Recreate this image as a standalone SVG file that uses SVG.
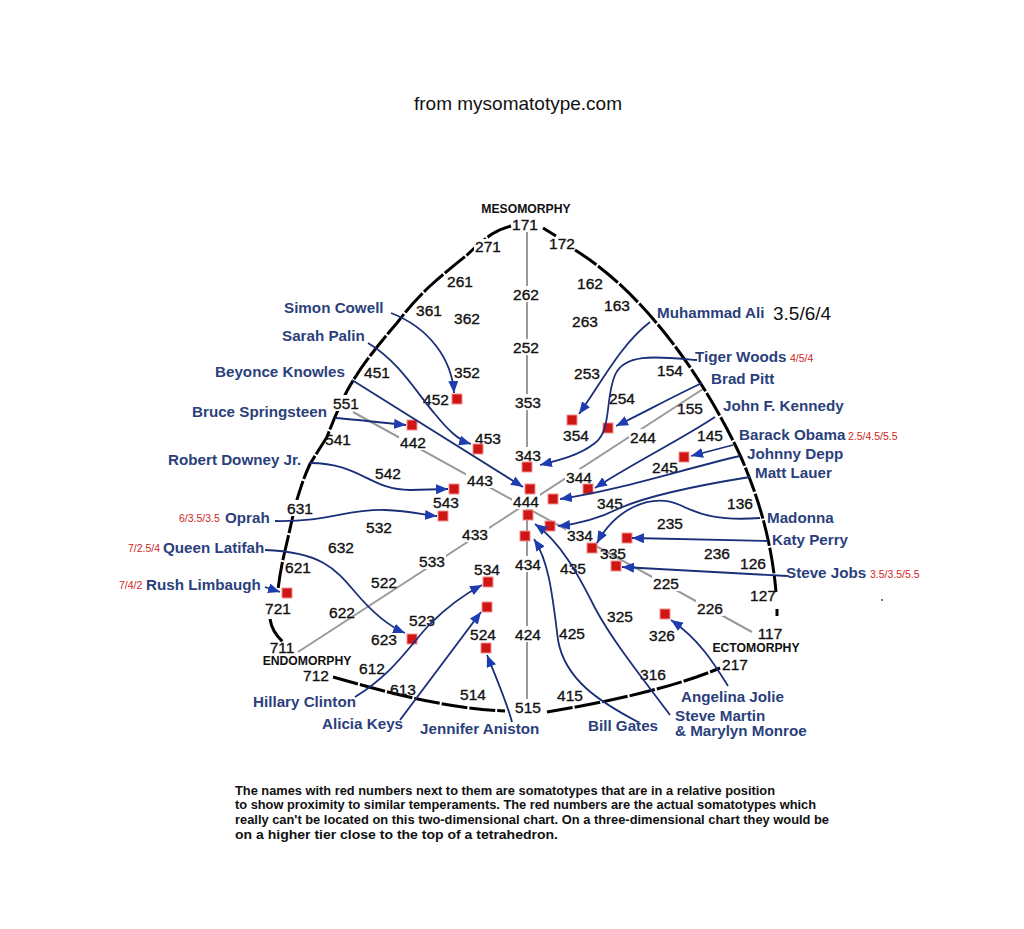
<svg xmlns="http://www.w3.org/2000/svg" width="1024" height="929" viewBox="0 0 1024 929">
<defs>
<style>
.num{font-family:"Liberation Sans",Arial,sans-serif;font-size:15.5px;fill:#111;stroke:#111;stroke-width:0.35;text-anchor:middle}
.name{font-family:"Liberation Sans",Arial,sans-serif;font-size:15.2px;font-weight:bold;fill:#2b3f7c}
.red{font-family:"Liberation Sans",Arial,sans-serif;font-size:10.5px;fill:#d02525}
.axis{font-family:"Liberation Sans",Arial,sans-serif;font-size:12.2px;font-weight:bold;fill:#111;text-anchor:middle}
.note{font-family:"Liberation Sans",Arial,sans-serif;font-size:12.5px;font-weight:bold;fill:#111}
.gray{stroke:#9a9a9a;stroke-width:2;fill:none}
.edge{stroke:#000;stroke-width:3;fill:none;stroke-dasharray:26 2;stroke-linejoin:round}
.con{stroke:#1b2f78;stroke-width:1.8;fill:none;marker-end:url(#ah)}
.sq{fill:#d01515;stroke:#f29090;stroke-width:1}
</style>
<marker id="ah" markerUnits="userSpaceOnUse" markerWidth="13" markerHeight="10" refX="12" refY="5" orient="auto">
<path d="M0,0 L12,5 L0,10 z" fill="#1d3cb0"/>
</marker>
<mask id="gm" maskUnits="userSpaceOnUse" x="0" y="0" width="1024" height="929">
<rect x="0" y="0" width="1024" height="929" fill="#fff"/>
<g fill="#000">
<rect x="512" y="216" width="28" height="16"/>
<rect x="512" y="286" width="28" height="16"/>
<rect x="512" y="339" width="28" height="16"/>
<rect x="514" y="394" width="28" height="16"/>
<rect x="514" y="447" width="28" height="40"/>
<rect x="512" y="493" width="28" height="16"/>
<rect x="514" y="556" width="28" height="16"/>
<rect x="514" y="626" width="28" height="16"/>
<rect x="514" y="699" width="28" height="16"/>
<rect x="399" y="434" width="28" height="16"/>
<rect x="466" y="472" width="28" height="16"/>
<rect x="566" y="527" width="28" height="16"/>
<rect x="652" y="575" width="28" height="16"/>
<rect x="696" y="600" width="28" height="16"/>
<rect x="418" y="553" width="28" height="16"/>
<rect x="461" y="526" width="28" height="16"/>
<rect x="565" y="469" width="28" height="16"/>
<rect x="629" y="429" width="28" height="16"/>
</g>
</mask>
<mask id="om" maskUnits="userSpaceOnUse" x="0" y="0" width="1024" height="929">
<rect x="0" y="0" width="1024" height="929" fill="#fff"/>
<g fill="#000">
<rect x="333" y="395" width="27" height="16"/>
<rect x="287" y="500" width="27" height="16"/>
<rect x="474" y="239" width="28" height="16"/>
</g>
</mask>
</defs>
<rect x="0" y="0" width="1024" height="929" fill="#fff"/>

<text x="518" y="110" text-anchor="middle" font-family="'Liberation Sans', Arial, sans-serif" font-size="19" fill="#111">from mysomatotype.com</text>

<g id="grid" mask="url(#gm)">
<line class="gray" x1="527" y1="230" x2="527" y2="700"/>
<line class="gray" x1="353" y1="412" x2="752" y2="632"/>
<line class="gray" x1="298" y1="652" x2="703" y2="389"/>
</g>

<g id="outline">
<path class="edge" mask="url(#om)" d="M511,226 Q500,229 492,234 Q478,244 467,255 Q448,270 430,286 Q412,303 397,323 Q383,339 370,356 Q357,373 347,391 Q336,413 327,437 Q318,451 310,464 Q304,477 300,490 Q295,505 292,520 Q288,538 284,555 Q280,572 278,590"/>
<path class="edge" d="M270,619 Q272,632 283,642"/>
<path class="edge" d="M543,228 L556,236" stroke-dasharray="4 3"/>
<path class="edge" d="M575,250 C640,290 700,370 740,455 C760,500 772,545 776,592"/>
<path class="edge" d="M777,609 L777,616" stroke-width="2"/>
<path class="edge" d="M333,677 C380,690 440,708 505,711"/>
<path class="edge" d="M547,712 C620,700 680,685 720,668"/>
<circle cx="882" cy="600" r="0.9" fill="#333"/>
</g>

<g id="axes">
<text class="axis" x="526" y="213">MESOMORPHY</text>
<text class="axis" x="307" y="665">ENDOMORPHY</text>
<text class="axis" x="756" y="652">ECTOMORPHY</text>
</g>

<g id="numbers">
<text class="num" x="525" y="230">171</text>
<text class="num" x="562" y="249">172</text>
<text class="num" x="488" y="252">271</text>
<text class="num" x="460" y="287">261</text>
<text class="num" x="590" y="289">162</text>
<text class="num" x="526" y="300">262</text>
<text class="num" x="617" y="311">163</text>
<text class="num" x="429" y="316">361</text>
<text class="num" x="467" y="324">362</text>
<text class="num" x="585" y="327">263</text>
<text class="num" x="526" y="353">252</text>
<text class="num" x="670" y="376">154</text>
<text class="num" x="467" y="378">352</text>
<text class="num" x="377" y="378">451</text>
<text class="num" x="587" y="379">253</text>
<text class="num" x="622" y="404">254</text>
<text class="num" x="436" y="405">452</text>
<text class="num" x="528" y="408">353</text>
<text class="num" x="346" y="409">551</text>
<text class="num" x="690" y="414">155</text>
<text class="num" x="576" y="441">354</text>
<text class="num" x="710" y="441">145</text>
<text class="num" x="643" y="443">244</text>
<text class="num" x="488" y="444">453</text>
<text class="num" x="338" y="445">541</text>
<text class="num" x="413" y="448">442</text>
<text class="num" x="528" y="461">343</text>
<text class="num" x="665" y="473">245</text>
<text class="num" x="388" y="479">542</text>
<text class="num" x="579" y="483">344</text>
<text class="num" x="480" y="486">443</text>
<text class="num" x="526" y="507">444</text>
<text class="num" x="446" y="508">543</text>
<text class="num" x="610" y="509">345</text>
<text class="num" x="740" y="509">136</text>
<text class="num" x="300" y="514">631</text>
<text class="num" x="670" y="529">235</text>
<text class="num" x="379" y="533">532</text>
<text class="num" x="475" y="540">433</text>
<text class="num" x="580" y="541">334</text>
<text class="num" x="341" y="553">632</text>
<text class="num" x="613" y="559">335</text>
<text class="num" x="717" y="559">236</text>
<text class="num" x="432" y="567">533</text>
<text class="num" x="753" y="569">126</text>
<text class="num" x="528" y="570">434</text>
<text class="num" x="298" y="573">621</text>
<text class="num" x="573" y="574">435</text>
<text class="num" x="487" y="575">534</text>
<text class="num" x="384" y="588">522</text>
<text class="num" x="666" y="589">225</text>
<text class="num" x="763" y="601">127</text>
<text class="num" x="278" y="614">721</text>
<text class="num" x="710" y="614">226</text>
<text class="num" x="342" y="618">622</text>
<text class="num" x="620" y="622">325</text>
<text class="num" x="422" y="626">523</text>
<text class="num" x="528" y="640">424</text>
<text class="num" x="483" y="640">524</text>
<text class="num" x="572" y="639">425</text>
<text class="num" x="770" y="639">117</text>
<text class="num" x="662" y="641">326</text>
<text class="num" x="384" y="645">623</text>
<text class="num" x="282" y="653">711</text>
<text class="num" x="735" y="670">217</text>
<text class="num" x="372" y="674">612</text>
<text class="num" x="653" y="680">316</text>
<text class="num" x="316" y="681">712</text>
<text class="num" x="403" y="695">613</text>
<text class="num" x="473" y="700">514</text>
<text class="num" x="570" y="701">415</text>
<text class="num" x="528" y="713">515</text>
</g>

<g id="markers">
<rect class="sq" x="452" y="394" width="10" height="10"/>
<rect class="sq" x="407" y="420" width="10" height="10"/>
<rect class="sq" x="473" y="444" width="10" height="10"/>
<rect class="sq" x="522" y="462" width="10" height="10"/>
<rect class="sq" x="525" y="484" width="10" height="10"/>
<rect class="sq" x="449" y="484" width="10" height="10"/>
<rect class="sq" x="438" y="511" width="10" height="10"/>
<rect class="sq" x="548" y="494" width="10" height="10"/>
<rect class="sq" x="523" y="510" width="10" height="10"/>
<rect class="sq" x="545" y="521" width="10" height="10"/>
<rect class="sq" x="520" y="531" width="10" height="10"/>
<rect class="sq" x="583" y="484" width="10" height="10"/>
<rect class="sq" x="587" y="543" width="10" height="10"/>
<rect class="sq" x="622" y="533" width="10" height="10"/>
<rect class="sq" x="611" y="561" width="10" height="10"/>
<rect class="sq" x="660" y="609" width="10" height="10"/>
<rect class="sq" x="679" y="452" width="10" height="10"/>
<rect class="sq" x="483" y="577" width="10" height="10"/>
<rect class="sq" x="482" y="602" width="10" height="10"/>
<rect class="sq" x="481" y="643" width="10" height="10"/>
<rect class="sq" x="567" y="415" width="10" height="10"/>
<rect class="sq" x="603" y="423" width="10" height="10"/>
<rect class="sq" x="282" y="588" width="10" height="10"/>
<rect class="sq" x="407" y="634" width="10" height="10"/>
</g>

<g id="connectors">
<path class="con" d="M391,313 C430,328 452,360 454,393"/>
<path class="con" d="M368,343 C400,362 418,395 435,414 C448,430 458,440 471,444"/>
<path class="con" d="M352,380 L523,487"/>
<path class="con" d="M335,418 C360,420 385,423 406,425"/>
<path class="con" d="M310,463 C360,463 370,490 410,490 L448,489"/>
<path class="con" d="M275,521 C330,522 345,509 385,510 C410,511 425,515 437,516"/>
<path class="con" d="M265,550 C320,552 335,568 355,592 C372,612 388,626 405,633"/>
<path class="con" d="M265,587 L280,592"/>
<path class="con" d="M355,697 C395,672 410,645 430,624 C450,604 465,594 482,585"/>
<path class="con" d="M400,720 C430,680 460,640 481,612"/>
<path class="con" d="M512,722 C506,700 495,675 487,655"/>
<path class="con" d="M638,722 C600,702 565,680 558,640 C552,590 548,560 534,539"/>
<path class="con" d="M670,715 C640,675 612,640 595,608 C577,572 560,542 535,524"/>
<path class="con" d="M728,686 C715,665 700,640 671,620"/>
<path class="con" d="M650,322 C620,345 600,385 579,414"/>
<path class="con" d="M697,360 C660,357 625,352 615,375 C605,398 612,430 595,443 C580,455 560,460 540,465"/>
<path class="con" d="M702,383 C670,398 645,412 616,426"/>
<path class="con" d="M715,417 C680,440 630,465 595,488"/>
<path class="con" d="M733,445 L691,456"/>
<path class="con" d="M740,456 C680,470 620,490 560,499"/>
<path class="con" d="M750,477 C700,485 650,495 620,508 C600,518 580,524 558,526"/>
<path class="con" d="M760,518 C720,521 700,515 680,505 C650,492 615,510 597,543"/>
<path class="con" d="M768,541 L632,538"/>
<path class="con" d="M787,576 L622,567"/>
</g>

<g id="simon-cowell"><text class="name" x="284" y="313">Simon Cowell</text></g>
<g id="sarah-palin"><text class="name" x="282" y="341">Sarah Palin</text></g>
<g id="beyonce-knowles"><text class="name" x="215" y="377">Beyonce Knowles</text></g>
<g id="bruce-springsteen"><text class="name" x="192" y="417">Bruce Springsteen</text></g>
<g id="robert-downey"><text class="name" x="168" y="465">Robert Downey Jr.</text></g>
<g id="oprah"><text class="red" x="179" y="522">6/3.5/3.5</text><text class="name" x="225" y="523">Oprah</text></g>
<g id="queen-latifah"><text class="red" x="128" y="552">7/2.5/4</text><text class="name" x="163" y="553">Queen Latifah</text></g>
<g id="rush-limbaugh"><text class="red" x="119" y="589">7/4/2</text><text class="name" x="146" y="590">Rush Limbaugh</text></g>
<g id="hillary-clinton"><text class="name" x="253" y="707">Hillary Clinton</text></g>
<g id="alicia-keys"><text class="name" x="322" y="729">Alicia Keys</text></g>
<g id="jennifer-aniston"><text class="name" x="420" y="734">Jennifer Aniston</text></g>
<g id="bill-gates"><text class="name" x="588" y="731">Bill Gates</text></g>
<g id="steve-martin"><text class="name" x="675" y="721">Steve Martin</text><text class="name" x="675" y="736">&amp; Marylyn Monroe</text></g>
<g id="angelina-jolie"><text class="name" x="681" y="702">Angelina Jolie</text></g>
<g id="muhammad-ali"><text class="name" x="657" y="318">Muhammad Ali</text><text x="773" y="320" font-family="'Liberation Sans', Arial, sans-serif" font-size="19" fill="#111">3.5/6/4</text></g>
<g id="tiger-woods"><text class="name" x="695" y="362">Tiger Woods</text><text class="red" x="790" y="362">4/5/4</text></g>
<g id="brad-pitt"><text class="name" x="711" y="384">Brad Pitt</text></g>
<g id="john-kennedy"><text class="name" x="723" y="411">John F. Kennedy</text></g>
<g id="barack-obama"><text class="name" x="739" y="440">Barack Obama</text><text class="red" x="848" y="440">2.5/4.5/5.5</text></g>
<g id="johnny-depp"><text class="name" x="747" y="459">Johnny Depp</text></g>
<g id="matt-lauer"><text class="name" x="755" y="478">Matt Lauer</text></g>
<g id="madonna"><text class="name" x="767" y="523">Madonna</text></g>
<g id="katy-perry"><text class="name" x="772" y="545">Katy Perry</text></g>
<g id="steve-jobs"><text class="name" x="786" y="578">Steve Jobs</text><text class="red" x="870" y="578">3.5/3.5/5.5</text></g>

<g id="footnote">
<text class="note" x="235" y="795" textLength="540" lengthAdjust="spacingAndGlyphs">The names with red numbers next to them are somatotypes that are in a relative position</text>
<text class="note" x="235" y="809" textLength="581" lengthAdjust="spacingAndGlyphs">to show proximity to similar temperaments.  The red numbers are the actual somatotypes which</text>
<text class="note" x="235" y="824" textLength="594" lengthAdjust="spacingAndGlyphs">really can't be located on this two-dimensional chart.  On a three-dimensional chart they would be</text>
<text class="note" x="235" y="839" textLength="323" lengthAdjust="spacingAndGlyphs">on a higher tier close to the top of a tetrahedron.</text>
</g>
</svg>
